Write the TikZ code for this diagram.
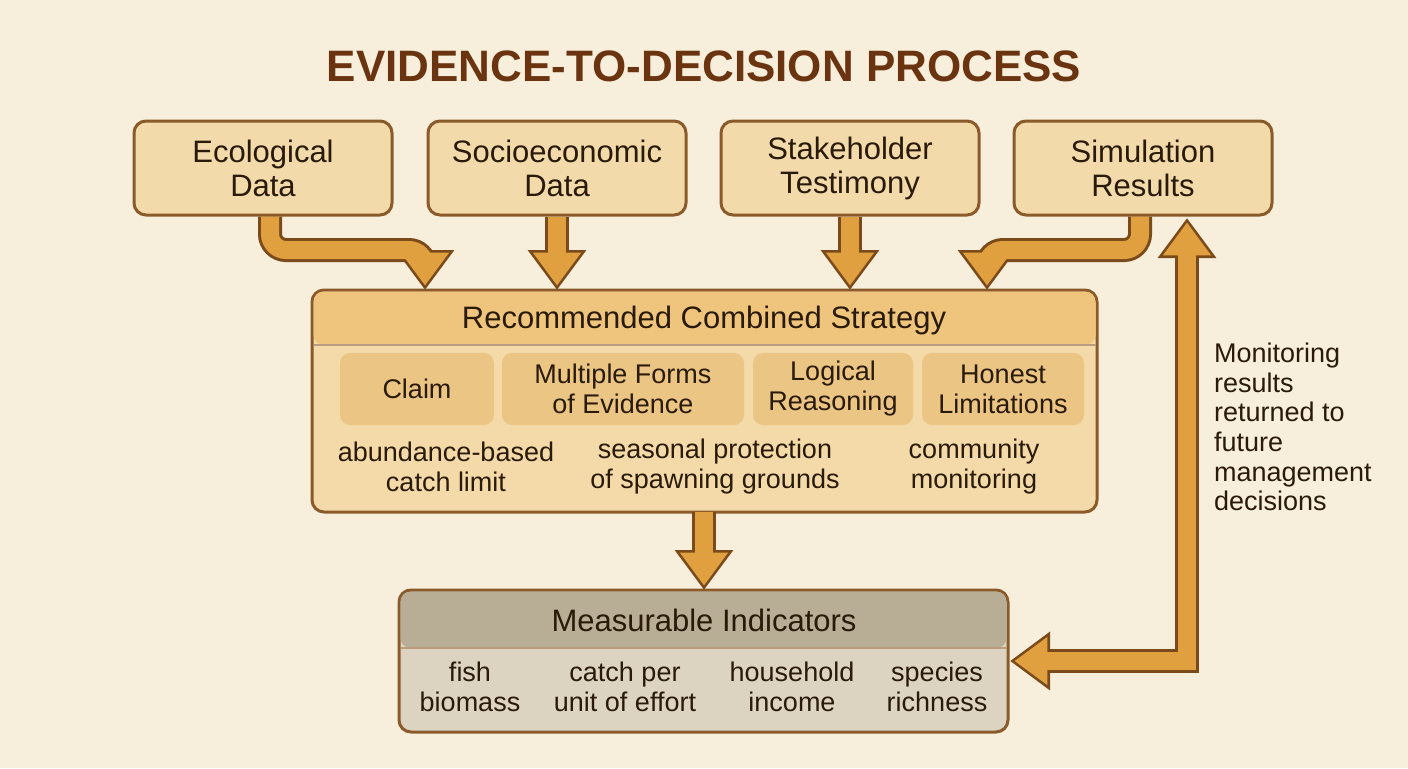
\documentclass[tikz,border=0pt]{standalone}
\usepackage{fontspec}
\setmainfont{Liberation Sans}
\usetikzlibrary{arrows.meta}
\definecolor{bgcol}{HTML}{F7EFDC}
\definecolor{boxfill}{HTML}{F3DAAA}
\definecolor{boxline}{HTML}{8A5A2A}
\definecolor{titlecol}{HTML}{6B3410}
\definecolor{stratfill}{HTML}{F4DAA8}
\definecolor{headfill}{HTML}{EFC57E}
\definecolor{subfill}{HTML}{EBC584}
\definecolor{measfill}{HTML}{DCD4C0}
\definecolor{meashead}{HTML}{B8AE95}
\definecolor{arrowfill}{HTML}{E0A040}
\definecolor{arrowline}{HTML}{7A4A1A}
\definecolor{txt}{HTML}{2A1A0A}
\tikzset{
    source/.style={draw=boxline, line width=1.5pt, fill=boxfill, rounded corners=6pt, minimum width=129pt, minimum height=47pt, align=center, font=\fontsize{15.5}{17}\selectfont, text=txt}, % input boxes
    part/.style={fill=subfill, rounded corners=5pt, minimum height=36pt, align=center, font=\fontsize{13.5}{15}\selectfont, text=txt},
    lbl/.style={align=center, font=\fontsize{13.5}{15}\selectfont, text=txt},
    fat outer/.style={draw=arrowline, line width=12pt, rounded corners=8pt, -{Triangle[width=28pt,length=20pt]}},
    fat inner/.style={draw=arrowfill, line width=9pt, rounded corners=8pt, shorten >=2.2pt, -{Triangle[width=23pt,length=16.5pt]}}
}
\newcommand{\fatarrow}[1]{\draw[fat outer] #1; \draw[fat inner] #1;}
\begin{document}
\begin{tikzpicture}[x=0.5pt, y=-0.5pt]
    \fill[bgcol] (0,0) rectangle (1408,768);
    \useasboundingbox (0,0) rectangle (1408,768);

    \node[text=titlecol, font=\fontsize{22}{24}\selectfont\bfseries] (title) at (704,66) {EVIDENCE-TO-DECISION PROCESS};

    \node[source] (eco) at (263,168) {Ecological\\Data};
    \node[source] (soc) at (557,168) {Socioeconomic\\Data};
    \node[source] (sta) at (850,168) {Stakeholder\\Testimony};
    \node[source] (sim) at (1143,168) {Simulation\\Results};

    % combined strategy box
    \draw[boxline, line width=1.5pt, fill=stratfill, rounded corners=6pt] (312,290) rectangle (1097,512);
    \fill[headfill, rounded corners=5pt] (313.5,291.5) rectangle (1095.5,345);
    \draw[boxline!60, line width=0.6pt] (313.5,345) -- (1095.5,345);
    \node[lbl, font=\fontsize{15.5}{17}\selectfont] (head) at (704,320) {Recommended Combined Strategy};
    \coordinate (strat n) at (704,290);
    \coordinate (strat s) at (704,512);
    \node[part, minimum width=77pt] (claim) at (417,389) {Claim};
    \node[part, minimum width=121pt] (forms) at (623,389) {Multiple Forms\\of Evidence};
    \node[part, minimum width=80pt] (logic) at (833,389) {Logical\\Reasoning};
    \node[part, minimum width=81pt] (limit) at (1003,389) {Honest\\Limitations};
    \node[lbl] (catch) at (446,467) {abundance-based\\catch limit};
    \node[lbl] (season) at (715,467) {seasonal protection\\of spawning grounds};
    \node[lbl] (comm) at (974,467) {community\\monitoring};

    % indicators box
    \draw[boxline, line width=1.5pt, fill=measfill, rounded corners=6pt] (399,590) rectangle (1008,732);
    \fill[meashead, rounded corners=5pt] (400.5,591.5) rectangle (1006.5,648);
    \draw[boxline!60, line width=0.6pt] (400.5,648) -- (1006.5,648);
    \node[lbl, font=\fontsize{15.5}{17}\selectfont] (mhead) at (704,620) {Measurable Indicators};
    \coordinate (meas n) at (704,590);
    \coordinate (meas e) at (1010,661);
    \node[lbl] (fish) at (470,687) {fish\\biomass};
    \node[lbl] (cpue) at (625,687) {catch per\\unit of effort};
    \node[lbl] (income) at (792,687) {household\\income};
    \node[lbl] (rich) at (937,687) {species\\richness};

    \node[lbl, align=left, anchor=north west, font=\fontsize{13.5}{14.8}\selectfont] (note) at (1207,336) {Monitoring\\results\\returned to\\future\\management\\decisions};

    % connectors
    \fatarrow{(eco.south -| 270,0) |- (425,250) -- (425,290)}
    \fatarrow{(soc.south) -- (soc.south |- strat n)}
    \fatarrow{(sta.south) -- (sta.south |- strat n)}
    \fatarrow{(sim.south -| 1140,0) |- (987,250) -- (987,290)}
    \fatarrow{(strat s) -- (meas n)}
    \draw[arrowline, line width=12pt, {Triangle[width=28pt,length=20pt]}-{Triangle[width=28pt,length=20pt]}] (meas e) -| (1187,218);
    \draw[arrowfill, line width=9pt, shorten >=2.2pt, shorten <=2.2pt, {Triangle[width=23pt,length=16.5pt]}-{Triangle[width=23pt,length=16.5pt]}] (meas e) -| (1187,218);
\end{tikzpicture}
\end{document}
